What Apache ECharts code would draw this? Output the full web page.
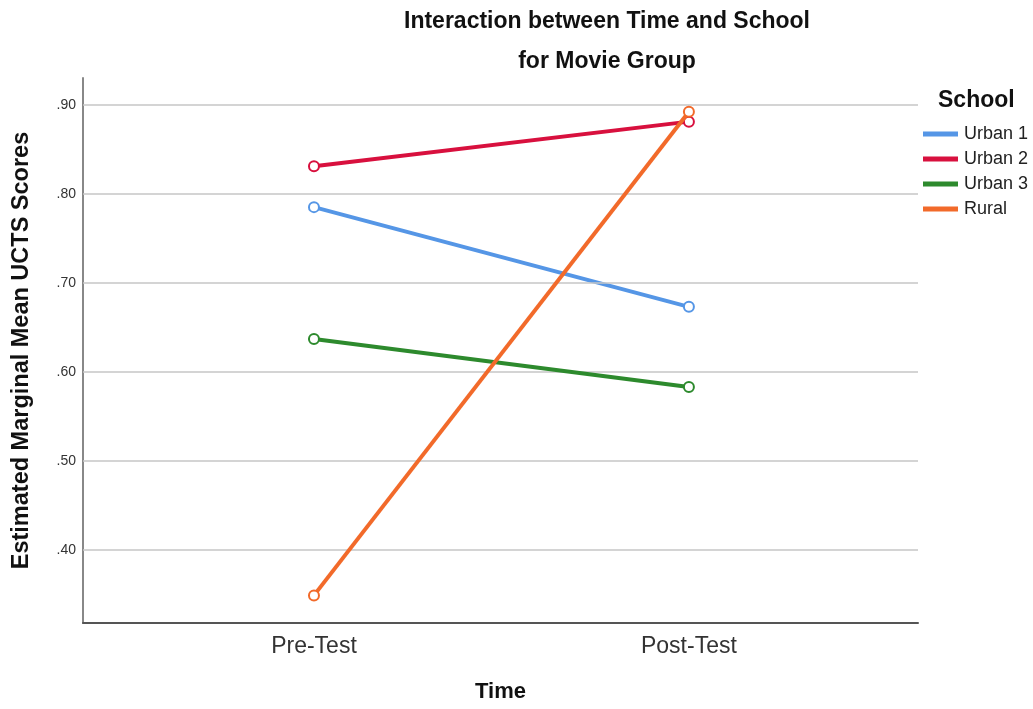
<!DOCTYPE html>
<html>
<head>
<meta charset="utf-8">
<script src="https://cdn.jsdelivr.net/npm/echarts@6/dist/echarts.min.js"></script>
<style>
html,body{margin:0;padding:0;background:#fff;}
#chart{width:1033px;height:709px;}
</style>
</head>
<body>
<div id="chart"></div>
<script>
var timeCategories = ['Pre-Test', 'Post-Test'];
var schoolNames = ['Urban 1', 'Urban 2', 'Urban 3', 'Rural'];
var urban1 = [0.785, 0.673];
var urban2 = [0.831, 0.881];
var urban3 = [0.637, 0.583];
var rural = [0.349, 0.892];
var yTicks = [0.4, 0.5, 0.6, 0.7, 0.8, 0.9];
var seriesColors = ['#5596e6', '#d8103e', '#2d8a2d', '#f26a2a'];

var allValues = [urban1, urban2, urban3, rural];
var FONT = '"Liberation Sans", Arial, sans-serif';

var series = allValues.map(function (vals, i) {
  return {
    name: schoolNames[i],
    type: 'line',
    data: vals.map(function (v, j) { return [j, v]; }),
    symbol: 'circle',
    symbolSize: 10,
    showSymbol: true,
    z: 3 + i,
    lineStyle: { width: 4, color: seriesColors[i] },
    itemStyle: { color: '#ffffff', borderColor: seriesColors[i], borderWidth: 2 },
    emphasis: { disabled: true },
    animation: false
  };
});

series.unshift({
  name: '__grid',
  type: 'line',
  data: [],
  silent: true,
  z: 1,
  animation: false,
  markLine: {
    silent: true,
    symbol: ['none', 'none'],
    label: { show: false },
    lineStyle: { color: '#c6c6c6', width: 1.5, type: 'solid' },
    animation: false,
    data: yTicks.map(function (t) { return { yAxis: t }; })
  }
});

var option = {
  animation: false,
  backgroundColor: '#ffffff',
  color: seriesColors,
  title: [{
    text: 'Interaction between Time and School\nfor Movie Group',
    left: 607,
    top: 2,
    padding: 0,
    textAlign: 'center',
    textStyle: { fontFamily: FONT, fontSize: 23, fontWeight: 'bold', color: '#111', lineHeight: 40 }
  }, {
    text: 'School',
    left: 938,
    top: 89,
    padding: 0,
    textStyle: { fontFamily: FONT, fontSize: 23, fontWeight: 'bold', color: '#111', lineHeight: 23 }
  }],
  legend: {
    data: schoolNames.map(function (n, i) {
      return { name: n, itemStyle: { color: seriesColors[i], borderWidth: 0 } };
    }),
    orient: 'vertical',
    left: 923,
    top: 125,
    padding: 0,
    itemGap: 7,
    itemWidth: 35,
    itemHeight: 5,
    icon: 'rect',
    textStyle: { fontFamily: FONT, fontSize: 18, color: '#222', lineHeight: 18, padding: [0, 0, 0, 1] }
  },
  grid: { left: 83, right: 115, top: 78, bottom: 86, containLabel: false },
  xAxis: {
    type: 'value',
    min: -0.616,
    max: 1.611,
    name: 'Time',
    nameLocation: 'middle',
    nameGap: 58,
    nameTextStyle: { fontFamily: FONT, fontSize: 22, fontWeight: 'bold', color: '#111' },
    axisLine: { show: true, onZero: false, lineStyle: { color: '#555', width: 2 } },
    axisTick: { show: false },
    splitLine: { show: false },
    axisLabel: {
      customValues: [0, 1],
      formatter: function (v) { return timeCategories[Math.round(v)] || ''; },
      fontFamily: FONT, fontSize: 23, color: '#333', margin: 12
    }
  },
  yAxis: {
    type: 'value',
    min: 0.318,
    max: 0.93,
    name: 'Estimated Marginal Mean UCTS Scores',
    nameLocation: 'middle',
    nameGap: 49,
    nameTextStyle: { fontFamily: FONT, fontSize: 23.5, fontWeight: 'bold', color: '#111' },
    axisLine: { show: true, onZero: false, lineStyle: { color: '#888', width: 2 } },
    axisTick: { show: false },
    splitLine: { show: false },
    axisLabel: {
      customValues: yTicks,
      formatter: function (v) { return v.toFixed(2).replace(/^0/, ''); },
      fontFamily: FONT, fontSize: 14, color: '#333', margin: 7
    }
  },
  series: series
};

var chart = echarts.init(document.getElementById('chart'), null, { renderer: 'canvas' });
chart.setOption(option);
</script>
</body>
</html>
